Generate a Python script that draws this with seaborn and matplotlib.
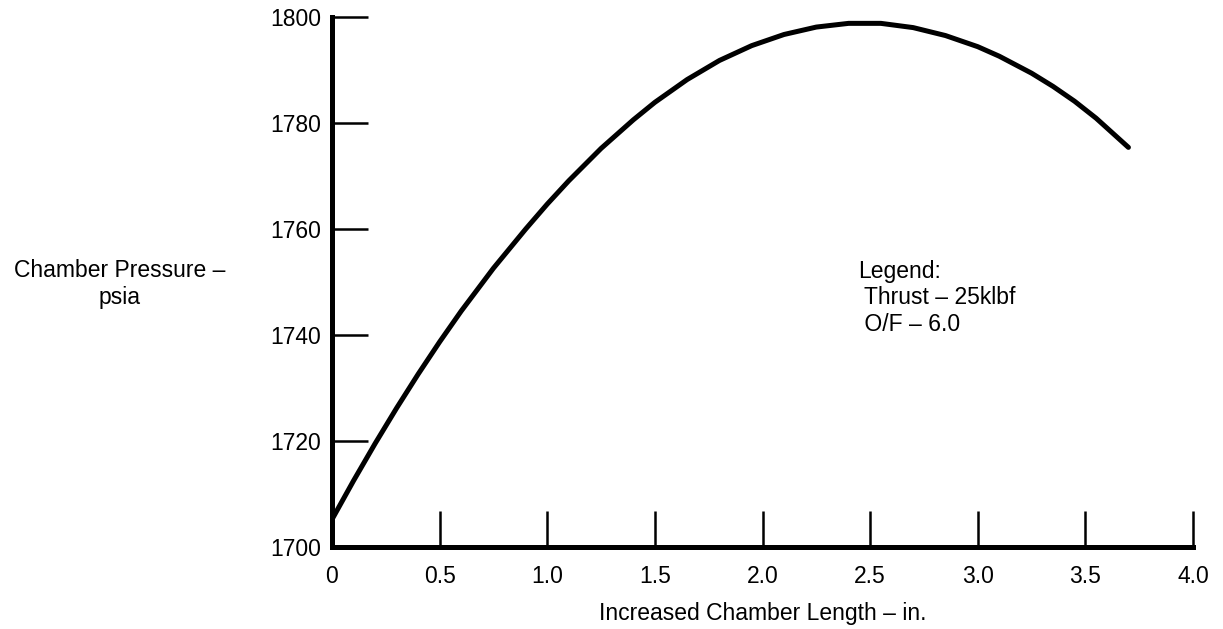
import matplotlib
matplotlib.use("Agg")
import matplotlib.pyplot as plt
import seaborn as sns

# values
chamber_length = [0.0, 0.1, 0.2, 0.3, 0.4, 0.5, 0.6, 0.75, 0.9, 1.0, 1.1, 1.25, 1.4, 1.5,
                  1.65, 1.8, 1.95, 2.1, 2.25, 2.4, 2.55, 2.7, 2.85, 3.0, 3.1, 3.25,
                  3.35, 3.45, 3.55, 3.7]
chamber_pressure = [1705.2, 1712.5, 1719.5, 1726.2, 1732.6, 1738.7, 1744.5, 1752.6, 1760.0,
                    1764.7, 1769.1, 1775.2, 1780.6, 1783.9, 1788.2, 1791.8, 1794.6, 1796.7,
                    1798.1, 1798.8, 1798.8, 1798.0, 1796.5, 1794.4, 1792.6, 1789.4,
                    1786.9, 1784.1, 1780.9, 1775.4]

x_ticks = [0, 0.5, 1.0, 1.5, 2.0, 2.5, 3.0, 3.5, 4.0]
x_tick_labels = ["0", "0.5", "1.0", "1.5", "2.0", "2.5", "3.0", "3.5", "4.0"]
y_ticks = [1700, 1720, 1740, 1760, 1780, 1800]

legend_lines = ["Legend:", " Thrust \u2013 25klbf", " O/F \u2013 6.0"]

sns.set_style("ticks")
plt.rcParams['font.family'] = ['Liberation Sans', 'DejaVu Sans']
FS = 16.5

fig = plt.figure(figsize=(12.23, 6.29), dpi=100)
ax = fig.add_axes([332 / 1223, 1 - 547 / 629, (1193 - 332) / 1223, (547 - 17) / 629])

sns.lineplot(x=chamber_length, y=chamber_pressure, ax=ax, color="black",
             linewidth=3.6, solid_joinstyle="round", solid_capstyle="round")

ax.set_xlim(0, 4.0)
ax.set_ylim(1700, 1800)
ax.set_xticks(x_ticks)
ax.set_xticklabels(x_tick_labels)
ax.set_yticks(y_ticks)

for side in ["top", "right"]:
    ax.spines[side].set_visible(False)
for side in ["left", "bottom"]:
    ax.spines[side].set_linewidth(3.6)
    ax.spines[side].set_color("black")
    ax.spines[side].set_capstyle("projecting")

ax.tick_params(axis="both", direction="in", length=26, width=1.8, color="black",
               labelsize=FS, labelcolor="black")
ax.tick_params(axis="x", pad=13)
ax.tick_params(axis="y", pad=8)

ax.set_xlabel("Increased Chamber Length \u2013 in.", fontsize=FS, labelpad=10, color="black")
ax.set_ylabel("")

fig.text(120 / 1223, 1 - 284 / 629, "Chamber Pressure \u2013\npsia", fontsize=FS,
         ha="center", va="center", multialignment="center", color="black")

ax.text(2.444, 1747, "\n".join(legend_lines), fontsize=FS, ha="left", va="center",
        color="black", linespacing=1.2)

fig.savefig("out.png", dpi=100, facecolor="white")
